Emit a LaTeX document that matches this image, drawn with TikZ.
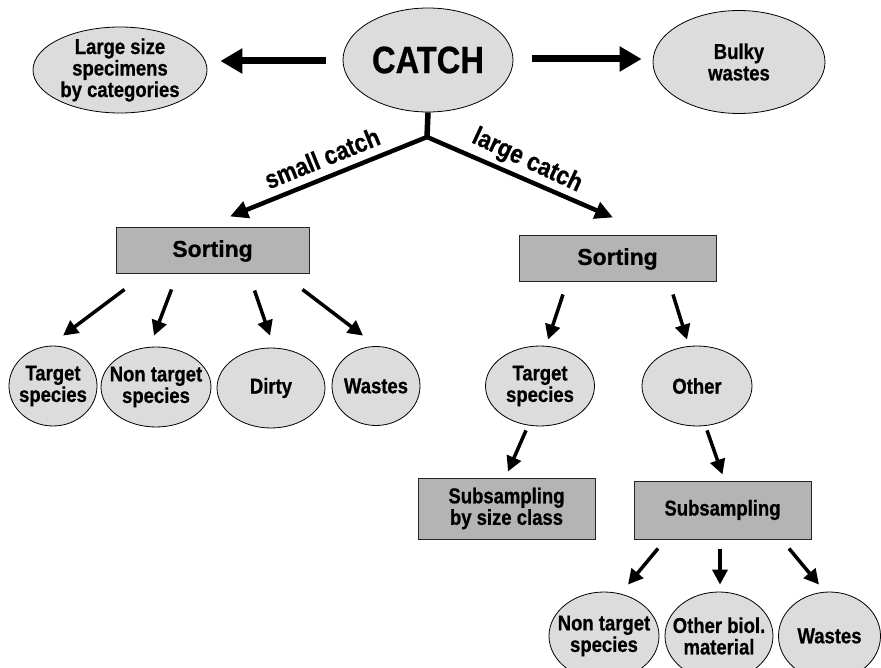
\documentclass[tikz,border=0pt]{standalone}
\usepackage{fontspec}
\setmainfont{Liberation Sans}
\newfontfamily\cfont[FakeStretch=0.86, FakeBold=0.7]{Liberation Sans}
\newfontfamily\wfont[FakeBold=0.7]{Liberation Sans}
\usetikzlibrary{shapes.geometric,arrows.meta,calc}
\definecolor{ellgray}{HTML}{DCDCDC}
\definecolor{boxgray}{HTML}{B4B4B4}
\begin{document}
\begin{tikzpicture}[x=1pt,y=-1pt,
  ell/.style={ellipse, draw=black, line width=0.8pt, fill=ellgray, inner sep=0pt},
  box/.style={rectangle, draw=black!85, line width=1pt, fill=boxgray, inner sep=0pt},
  txt/.style={font=\cfont\fontsize{21.5}{21.5}\selectfont\bfseries, align=center, inner sep=0pt},
  bigarrow/.style={line width=7pt, -{Triangle[length=22pt,width=24pt]}},
  midarrow/.style={line width=4.5pt, -{Triangle[length=18pt,width=17pt]}},
  smallarrow/.style={line width=3.5pt, -{Triangle[length=15pt,width=15pt]}},
  lbl/.style={font=\cfont\fontsize{26}{28}\selectfont\bfseries, inner sep=0pt},
  sortfont/.style={font=\wfont\fontsize{23}{26}\selectfont\bfseries},
]
\useasboundingbox (0,0) rectangle (881,668);

% top row
\node[ell, minimum width=174, minimum height=86,
      label={[txt]center:Large size\\specimens\\by categories}] (ls) at (120,70) {};
\node[ell, minimum width=170, minimum height=104,
      label={[font=\cfont\fontsize{38}{40}\selectfont\bfseries, inner sep=0pt]center:CATCH}] (catch) at (428,60) {};
\node[ell, minimum width=172, minimum height=103,
      label={[txt]center:Bulky\\wastes}] (bulky) at (739,62) {};

% sorting boxes
\node[box, minimum width=193, minimum height=46, sortfont] (sortL) at (212.5,251) {Sorting};
\node[box, minimum width=197, minimum height=46, sortfont] (sortR) at (617.5,259) {Sorting};

% left results
\node[ell, minimum width=88, minimum height=80, label={[txt]center:Target\\species}] (t1) at (53,386) {};
\node[ell, minimum width=110, minimum height=80, label={[txt]center:Non target\\species}] (n1) at (156,387) {};
\node[ell, minimum width=108, minimum height=80, label={[txt]center:Dirty}] (d1) at (271,388) {};
\node[ell, minimum width=88, minimum height=79, label={[txt]center:Wastes}] (w1) at (376,386) {};

% right results
\node[ell, minimum width=109, minimum height=80, label={[txt]center:Target\\species}] (tR) at (540,386) {};
\node[ell, minimum width=110, minimum height=80, label={[txt]center:Other}] (oth) at (697,386) {};

% subsampling boxes
\node[box, minimum width=177, minimum height=61, txt] (ssz) at (506.5,508.5) {Subsampling\\by size class};
\node[box, minimum width=177, minimum height=58, txt] (ss) at (722.5,510) {Subsampling};

% bottom results
\node[ell, minimum width=110, minimum height=88, label={[txt]center:Non target\\species}] (nb) at (604,636) {};
\node[ell, minimum width=108, minimum height=88, label={[txt]center:Other biol.\\material}] (ob) at (719,636) {};
\node[ell, minimum width=102, minimum height=88, label={[txt]center:Wastes}] (wb) at (829.5,636) {};

% top arrows
\draw[bigarrow] ($(catch.west)+(-17,1)$) -- ($(ls.east)+(13,-9)$);
\draw[bigarrow] ($(catch.east)+(19,-1)$) -- ($(bulky.west)+(-11,-3)$);

% branching
\coordinate (j) at (427,137);
\draw[line width=5.5pt] (catch.south) -- (j);
\draw[midarrow] (j) -- ($(sortL.north)+(17.5,-11)$);
\draw[midarrow] (j) -- ($(sortR.north)+(-4.5,-18)$);
\node[lbl, rotate=22] (lsmall) at (322,158) {small catch};
\node[lbl, rotate=-25] (llarge) at (527,161) {large catch};

% left sorting arrows
\draw[smallarrow] ($(sortL.south)+(-88,15)$) -- ($(t1.north)+(10,-10)$);
\draw[smallarrow] ($(sortL.south)+(-41,15)$) -- ($(n1.north)+(-2,-11)$);
\draw[smallarrow] ($(sortL.south)+(42,16)$) -- ($(d1.north)+(-1,-12)$);
\draw[smallarrow] ($(sortL.south)+(90,15)$) -- ($(w1.north)+(-13,-10.5)$);

% right sorting arrows
\draw[smallarrow] ($(sortR.south)+(-54.5,12)$) -- ($(tR.north)+(8,-6)$);
\draw[smallarrow] ($(sortR.south)+(55.5,12)$) -- ($(oth.north)+(-10,-6)$);

% to subsampling
\draw[smallarrow] ($(tR.south)+(-14,4)$) -- ($(ssz.north)+(1.5,-6)$);
\draw[smallarrow] ($(oth.south)+(10,4)$) -- ($(ss.north)+(0,-6)$);

% subsampling arrows
\draw[smallarrow] ($(ss.south)+(-64.5,9)$) -- ($(nb.north)+(24,-7)$);
\draw[smallarrow] ($(ss.south)+(-2.5,9)$) -- ($(ob.north)+(1,-7)$);
\draw[smallarrow] ($(ss.south)+(66.5,9)$) -- ($(wb.north)+(-10.5,-7)$);
\end{tikzpicture}
\end{document}
